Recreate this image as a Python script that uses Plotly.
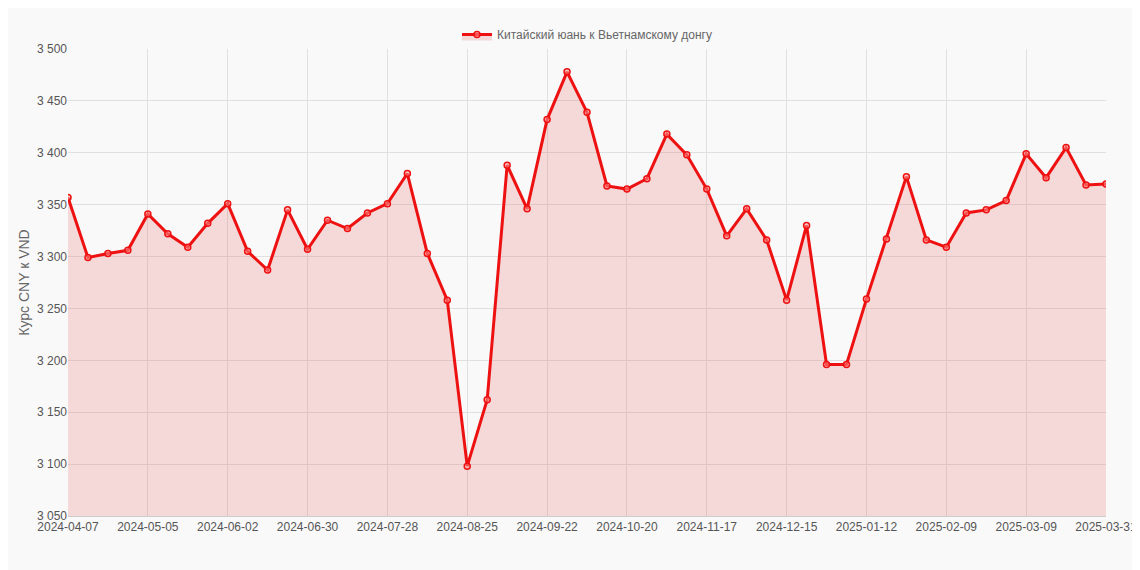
import plotly.graph_objects as go
import pandas as pd

dates = [d.strftime("%Y-%m-%d") for d in pd.date_range("2024-04-07", periods=52, freq="7D")] + ["2025-03-31"]
values = [3357,3299,3303,3306,3341,3322,3309,3332,3351,3305,3287,3345,3307,3335,3327,3342,3351,3380,
          3303,3258,3098,3162,3388,3346,3432,3478,3439,3368,3365,3375,3418,3398,3365,3320,3346,3316,
          3258,3330,3196,3196,3259,3317,3377,3316,3309,3342,3345,3354,3399,3376,3405,3369,3370]
tickvals = dates[::4] + [dates[-1]]

fig = go.Figure(go.Scatter(
    x=dates, y=values, mode="lines+markers", fill="tozeroy",
    fillcolor="rgba(230,90,90,0.2)",
    line=dict(color="#ee1111", width=3),
    marker=dict(size=6, color="rgba(255,150,150,0.5)", line=dict(color="#ee1111", width=1.5)),
    name="Китайский юань к Вьетнамскому донгу"))
fig.update_layout(
    width=1140, height=570, paper_bgcolor="#f9f9f9", plot_bgcolor="#f9f9f9",
    margin=dict(l=60, r=42, t=24, b=62), separators=". ",
    font=dict(family="Liberation Sans, Arial", size=12, color="#666"),
    showlegend=True,
    legend=dict(orientation="h", x=0.5, xanchor="center", y=1.0, yanchor="bottom"),
)
fig.update_xaxes(type="category", tickvals=tickvals, showgrid=True, gridcolor="#e0e0e0",
                 linecolor="#ccc", range=[0, len(dates)-1], tickfont=dict(color="#555"))
fig.update_yaxes(range=[3050, 3500], dtick=50, tickformat=",d", showgrid=True, gridcolor="#e0e0e0",
                 title=dict(text="Курс CNY к VND", standoff=4), tickfont=dict(color="#555"))
fig.write_html("out.html")
